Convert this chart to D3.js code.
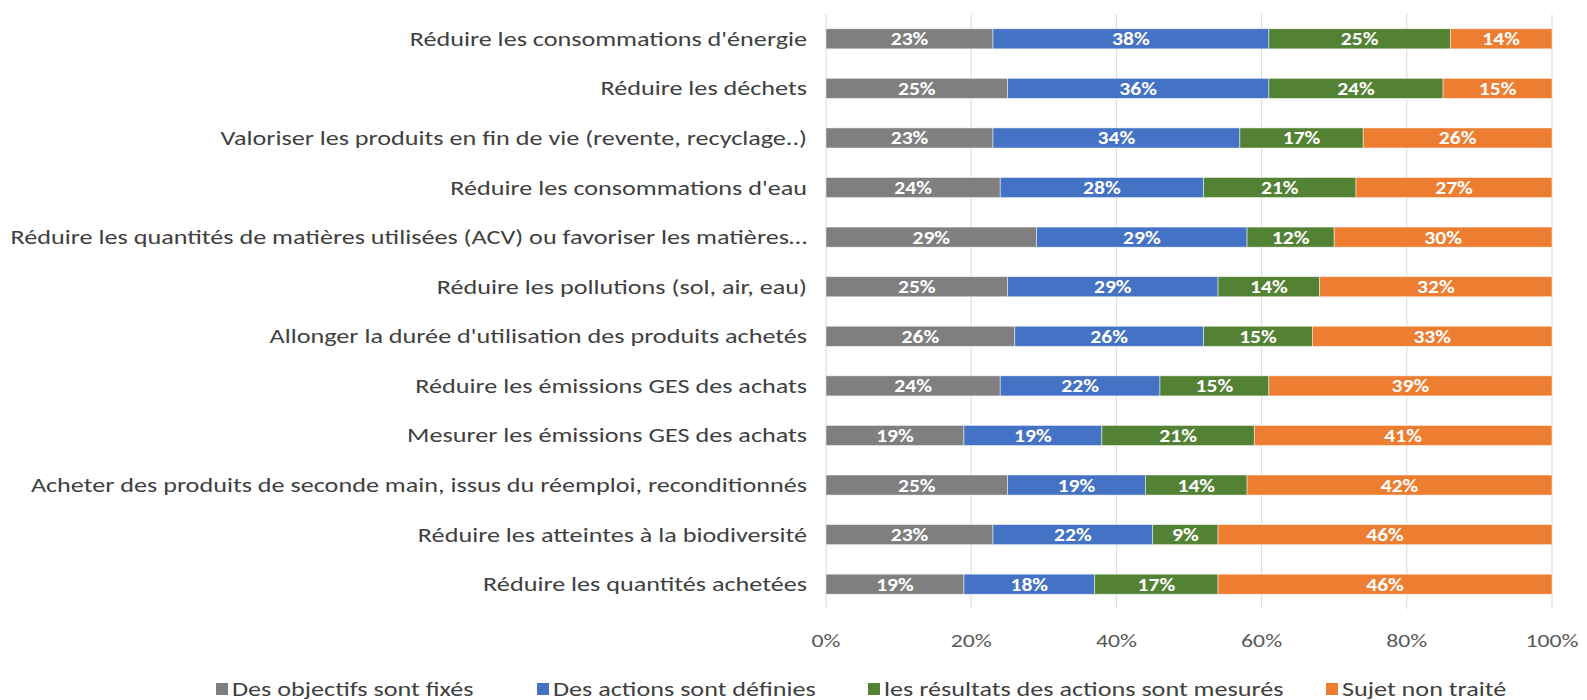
<!DOCTYPE html>
<html><head><meta charset="utf-8">
<script src="https://cdn.jsdelivr.net/npm/d3@7"></script>
<style>
body{margin:0;background:#fff;}
svg{display:block;font-family:Carlito,Lato,"Open Sans",sans-serif;}
</style></head>
<body><svg id="c" width="1587" height="700"></svg>
<script>
const categories = [
 "Réduire les consommations d'énergie",
 "Réduire les déchets",
 "Valoriser les produits en fin de vie (revente, recyclage..)",
 "Réduire les consommations d'eau",
 "Réduire les quantités de matières utilisées (ACV) ou favoriser les matières…",
 "Réduire les pollutions (sol, air, eau)",
 "Allonger la durée d'utilisation des produits achetés",
 "Réduire les émissions GES des achats",
 "Mesurer les émissions GES des achats",
 "Acheter des produits de seconde main, issus du réemploi, reconditionnés",
 "Réduire les atteintes à la biodiversité",
 "Réduire les quantités achetées"
];
const seriesNames = ["Des objectifs sont fixés","Des actions sont définies","les résultats des actions sont mesurés","Sujet non traité"];
const objectifs = [23,25,23,24,29,25,26,24,19,25,23,19];
const actions   = [38,36,34,28,29,29,26,22,19,19,22,18];
const mesures   = [25,24,17,21,12,14,15,15,21,14,9,17];
const nonTraite = [14,15,26,27,30,32,33,39,41,42,46,46];
const tickLabels = ["0%","20%","40%","60%","80%","100%"];
const colors = ["#7f7f7f","#4472c4","#548235","#ed7d31"];

const svg = d3.select("#c");
const x = d3.scaleLinear().domain([0,100]).range([826,1552]);
const y = d3.scaleBand().domain(categories).range([14,609]).paddingInner(0.595).paddingOuter(0.2975);

const series = [objectifs,actions,mesures,nonTraite];
const rows = categories.map((c,i)=>{ const r={cat:c}; seriesNames.forEach((s,k)=>r[s]=series[k][i]); return r;});
const stacked = d3.stack().keys(seriesNames)(rows);

function fitX(sel, target){
  let w = 0; sel.each(function(){ w = Math.max(w, this.getComputedTextLength()); });
  return target / w;
}

// gridlines
svg.append("g").selectAll("line").data(d3.range(0,101,20)).join("line")
 .attr("x1",d=>x(d)).attr("x2",d=>x(d)).attr("y1",14).attr("y2",609)
 .attr("stroke","#d9d9d9").attr("stroke-width",1);

// category labels
const catT = svg.append("g").selectAll("text").data(categories).join("text")
 .attr("text-anchor","end").attr("dy","0.35em").attr("fill","#404040").attr("font-size",20)
 .text(d=>d);
const sxCat = fitX(catT, 797);
catT.attr("transform",d=>`translate(807,${y(d)+y.bandwidth()/2}) scale(${sxCat},1)`);

// bars
const g = svg.append("g");
const sxLab = 1.2;
stacked.forEach((s,k)=>{
  const gg = g.append("g");
  gg.selectAll("rect").data(s).join("rect")
   .attr("x",d=>x(d[0])).attr("width",d=>x(d[1])-x(d[0]))
   .attr("y",d=>y(d.data.cat)).attr("height",y.bandwidth())
   .attr("fill",colors[k]).attr("stroke","#ffffff").attr("stroke-opacity",0.6).attr("stroke-width",0.8);
  gg.selectAll("text").data(s).join("text")
   .attr("transform",d=>`translate(${(x(d[0])+x(d[1]))/2},${y(d.data.cat)+y.bandwidth()/2}) scale(${sxLab},1)`)
   .attr("dy","0.36em").attr("text-anchor","middle")
   .attr("fill","#fff").attr("font-weight","bold").attr("font-size",18)
   .text(d=>(d[1]-d[0])+"%");
});

// x axis tick labels
svg.append("g").selectAll("text").data(tickLabels).join("text")
 .attr("transform",(d,i)=>`translate(${x(i*20)},640) scale(1.25,1)`).attr("dy","0.35em")
 .attr("text-anchor","middle").attr("fill","#595959").attr("font-size",19)
 .text(d=>d);

// legend
const legX = [216,537,868,1326];
const leg = svg.append("g").selectAll("g").data(seriesNames).join("g")
 .attr("transform",(d,i)=>`translate(${legX[i]},689)`);
leg.append("rect").attr("x",0).attr("y",-6).attr("width",12).attr("height",12).attr("fill",(d,i)=>colors[i]);
leg.append("text").attr("dy","0.35em").attr("fill","#404040").attr("font-size",20)
 .attr("transform",`translate(16,0) scale(${sxCat},1)`).text(d=>d);
</script></body></html>
